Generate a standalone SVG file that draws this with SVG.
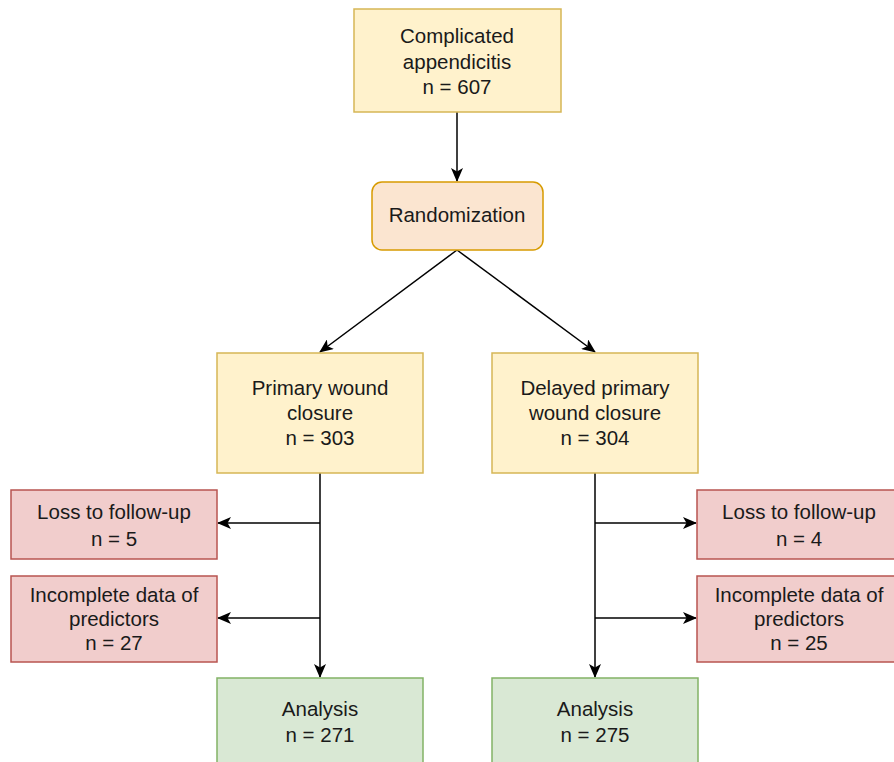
<svg xmlns="http://www.w3.org/2000/svg" width="894" height="762" viewBox="0 0 894 762">
<style>
text{font-family:"Liberation Sans",Arial,sans-serif;font-size:20.5px;fill:#1a1a1a;text-anchor:middle}
.y{fill:#fff2cc;stroke:#d6b656;stroke-width:1.5}
.o{fill:#fbe5d0;stroke:#d79b00;stroke-width:1.5}
.r{fill:#f1cdcc;stroke:#b85450;stroke-width:1.5}
.g{fill:#d9e8d4;stroke:#82b366;stroke-width:1.5}
.c{stroke:#000;stroke-width:1.5;fill:none;marker-end:url(#a)}
</style>
<defs>
<marker id="a" viewBox="0 0 14 12" refX="13" refY="6" markerWidth="14" markerHeight="12" markerUnits="userSpaceOnUse" orient="auto">
<path d="M0,0 L14,6 L0,12 L3.5,6 Z" fill="#000"/>
</marker>
</defs>
<g id="connectors">
<path class="c" d="M457,112 V181"/>
<path class="c" d="M457,250 L320,352"/>
<path class="c" d="M457,250 L595,352"/>
<path class="c" d="M320,473 V677"/>
<path class="c" d="M320,523 H218"/>
<path class="c" d="M320,618 H218"/>
<path class="c" d="M595,473 V677"/>
<path class="c" d="M595,523 H696"/>
<path class="c" d="M595,618 H696"/>
</g>
<g id="n1"><rect class="y" x="354" y="9" width="207" height="103"/><text x="457" y="43">Complicated</text><text x="457" y="69">appendicitis</text><text x="457" y="94">n = 607</text></g>
<g id="n2"><rect class="o" x="372" y="182" width="171" height="68" rx="10"/><text x="457" y="222">Randomization</text></g>
<g id="n3"><rect class="y" x="217" y="353" width="206" height="120"/><text x="320" y="395">Primary wound</text><text x="320" y="420">closure</text><text x="320" y="445">n = 303</text></g>
<g id="n4"><rect class="y" x="492" y="353" width="206" height="120"/><text x="595" y="395">Delayed primary</text><text x="595" y="420">wound closure</text><text x="595" y="445">n = 304</text></g>
<g id="n5"><rect class="r" x="11" y="490" width="206" height="69"/><text x="114" y="519">Loss to follow-up</text><text x="114" y="546">n = 5</text></g>
<g id="n6"><rect class="r" x="11" y="576" width="206" height="86"/><text x="114" y="602">Incomplete data of</text><text x="114" y="626">predictors</text><text x="114" y="650">n = 27</text></g>
<g id="n7"><rect class="r" x="697" y="490" width="206" height="69"/><text x="799" y="519">Loss to follow-up</text><text x="799" y="546">n = 4</text></g>
<g id="n8"><rect class="r" x="697" y="576" width="206" height="86"/><text x="799" y="602">Incomplete data of</text><text x="799" y="626">predictors</text><text x="799" y="650">n = 25</text></g>
<g id="n9"><rect class="g" x="217" y="678" width="206" height="100"/><text x="320" y="716">Analysis</text><text x="320" y="742">n = 271</text></g>
<g id="n10"><rect class="g" x="492" y="678" width="206" height="100"/><text x="595" y="716">Analysis</text><text x="595" y="742">n = 275</text></g>
</svg>
